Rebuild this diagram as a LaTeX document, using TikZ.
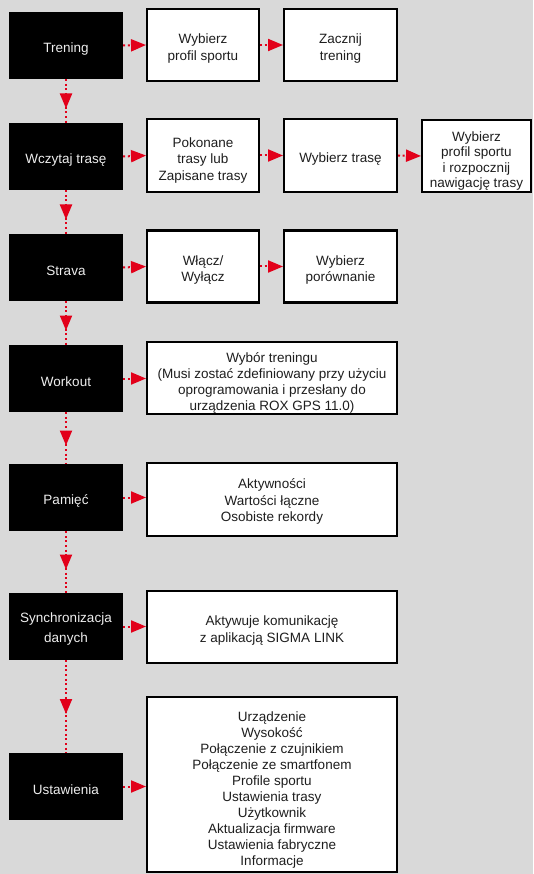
\documentclass[tikz,border=0pt]{standalone}
\usepackage{fontspec}
\setmainfont{Liberation Sans}
\usetikzlibrary{arrows.meta,decorations.markings}
\definecolor{bg}{HTML}{D9D9D9}
\definecolor{sred}{HTML}{E2001A}
\definecolor{ltxt}{HTML}{EEEEEE}
\definecolor{dtxt}{HTML}{1E1E1E}
\newcommand\fstrut[1][17pt]{\rule{0pt}{#1}}
\begin{document}
\begin{tikzpicture}[x=1pt,y=-1pt,
  txt/.style={align=center,font=\fontsize{13.5}{16.5}\selectfont},
  blk/.style={txt,font=\fontsize{13.5}{19.5}\selectfont,fill=black,text=ltxt,minimum width=114pt,minimum height=67pt,inner sep=0pt},
  wbox/.style={txt,draw=black,line width=2.2pt,fill=white,text=dtxt,inner sep=0pt,minimum width=111.8pt,minimum height=71.8pt},
  wide/.style={wbox,minimum width=249.8pt},
  harrow/.style={draw=sred,line width=2pt,dash pattern=on 2pt off 2.6pt,
    -{Triangle[length=15pt,width=12pt,fill=sred]}},
  varrow/.style={draw=sred,line width=2pt,dash pattern=on 2pt off 2.6pt,
    postaction={decorate},
    decoration={markings,mark=at position 0.5 with {\pgftransformxshift{7.5pt}\arrow[sred,solid]{Triangle[length=15pt,width=12pt,fill=sred]}}}}
]
\path[fill=bg] (0,0) rectangle (533,874);

% left column
\node[blk] (b1) at (66,45.5) {\fstrut Trening};
\node[blk] (b2) at (66,156.5) {\fstrut Wczytaj trasę};
\node[blk] (b3) at (66,267.5) {\fstrut Strava};
\node[blk] (b4) at (66,378.5) {\fstrut Workout};
\node[blk] (b5) at (66,497.5) {\fstrut Pamięć};
\node[blk] (b6) at (66,626.5) {\fstrut[15pt]Synchronizacja\\danych};
\node[blk] (b7) at (66,786.5) {\fstrut Ustawienia};

% row 1
\node[wbox] (w11) at (203,45) {\fstrut Wybierz\\profil sportu};
\node[wbox,minimum width=112.8pt] (w12) at (340.5,45) {\fstrut Zacznij\\trening};
% row 2
\node[wbox,minimum height=72.8pt] (w21) at (203,155.5) {\fstrut[19pt]Pokonane\\trasy lub\\Zapisane trasy};
\node[wbox,minimum width=112.8pt,minimum height=72.8pt] (w22) at (340.5,155.5) {\fstrut Wybierz trasę};
\node[wbox,minimum width=108.8pt,minimum height=71.8pt,font=\fontsize{13.5}{15.5}\selectfont] (w23) at (476.5,156) {\fstrut[20pt]Wybierz\\profil sportu\\i rozpocznij\\nawigację trasy};
% row 3
\node[wbox] (w31) at (203,266.5) {\fstrut Włącz/\\Wyłącz};
\node[wbox,minimum width=112.8pt] (w32) at (340.5,266.5) {\fstrut Wybierz\\porównanie};
% row 4
\node[wide,font=\fontsize{13.5}{16}\selectfont] (w4) at (272,378) {\fstrut[19pt]Wybór treningu\\(Musi zostać zdefiniowany przy użyciu\\oprogramowania i przesłany do\\urządzenia ROX GPS 11.0)};
% row 5
\node[wide,minimum height=72.8pt] (w5) at (272,499.5) {\fstrut[14pt]Aktywności\\Wartości łączne\\Osobiste rekordy};
% row 6
\node[wide] (w6) at (272,627) {\fstrut Aktywuje komunikację\\z aplikacją SIGMA LINK};
% row 7
\node[wide,minimum height=174.8pt,font=\fontsize{13.5}{16}\selectfont] (w7) at (272,784.5) {\fstrut[21pt]Urządzenie\\Wysokość\\Połączenie z czujnikiem\\Połączenie ze smartfonem\\Profile sportu\\Ustawienia trasy\\Użytkownik\\Aktualizacja firmware\\Ustawienia fabryczne\\Informacje};

% horizontal arrows
\draw[harrow] (b1.east) -- (w11.west);
\draw[harrow] (w11.east) -- (w12.west);
\draw[harrow] (b2.east) -- (w21.west);
\draw[harrow] (w21.east) -- (w22.west);
\draw[harrow] (w22.east) -- (w23.west);
\draw[harrow] (b3.east) -- (w31.west);
\draw[harrow] (w31.east) -- (w32.west);
\draw[harrow] (b4.east) -- (b4.east -| w4.west);
\draw[harrow] (b5.east) -- (b5.east -| w5.west);
\draw[harrow] (b6.east) -- (b6.east -| w6.west);
\draw[harrow] (b7.east) -- (b7.east -| w7.west);

% vertical arrows
\draw[varrow] (b1.south) -- (b2.north);
\draw[varrow] (b2.south) -- (b3.north);
\draw[varrow] (b3.south) -- (b4.north);
\draw[varrow] (b4.south) -- (b5.north);
\draw[varrow] (b5.south) -- (b6.north);
\draw[varrow] (b6.south) -- (b7.north);
\end{tikzpicture}
\end{document}
